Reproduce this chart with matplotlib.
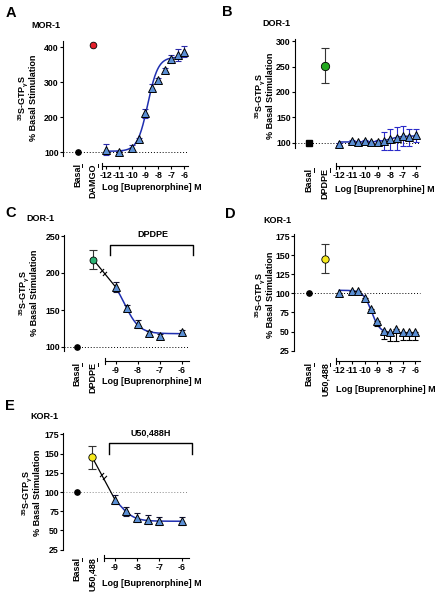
import numpy as np
import matplotlib
matplotlib.use('Agg')
import matplotlib.pyplot as plt
from matplotlib.lines import Line2D
from matplotlib.path import Path

plt.rcParams['font.family'] = ['Liberation Sans', 'DejaVu Sans']
plt.rcParams['font.weight'] = 'bold'
plt.rcParams['mathtext.default'] = 'regular'

# ------------------------------------------------------------------ data
# Panel A  MOR-1
a_logx = [-12, -11, -10, -9.5, -9, -8.5, -8, -7.5, -7, -6.5, -6]
a_mean = [108, 100, 112, 137, 211, 285, 307, 335, 366, 378, 388]
a_sem = [17, 4, 8, 4, 12, 10, 6, 6, 12, 16, 16]
a_basal = 100
a_agonist, a_agonist_sem = 408, 0
a_fit = (103, 372, -8.8, 1.1)          # low plateau, high plateau, logEC50, Hill

# Panel B  DOR-1
b_logx = [-12, -11, -10.5, -10, -9.5, -9, -8.5, -8, -7.5, -7, -6.5, -6]
b_mean = [98, 103, 101, 103, 101, 101, 103, 106, 108, 113, 110, 114]
b_sem = [2, 2, 2, 2, 2, 3, 18, 20, 22, 20, 17, 13]
b_basal = 100
b_agonist, b_agonist_sem = 252, 35
b_fit = (101, 113, -8.0, 1.0)

# Panel C  DOR-1 + DPDPE
c_logx = [-9, -8.5, -8, -7.5, -7, -6]
c_mean = [181, 153, 131, 119, 115, 120]
c_sem = [7, 4, 5, 3, 3, 3]
c_basal = 100
c_agonist, c_agonist_sem = 218, 13
c_fit = (198.7, 118, -8.6, 1.3)

# Panel D  KOR-1
d_logx = [-12, -11, -10.5, -10, -9.5, -9, -8.5, -8, -7.5, -7, -6.5, -6]
d_mean = [100, 103, 103, 93.5, 79.5, 64, 51, 49.5, 53, 50, 50, 50]
d_sem = [2, 2, 2, 3, 3, 7, 11, 12, 15, 11, 11, 11]
d_basal = 100
d_agonist, d_agonist_sem = 145, 19
d_fit = (104, 48, -9.45, 1.3)

# Panel E  KOR-1 + U50,488H
e_logx = [-9, -8.5, -8, -7.5, -7, -6]
e_mean = [90, 75, 66.5, 64, 62, 62.3]
e_sem = [6, 6, 6, 6, 5.5, 5.7]
e_basal = 100
e_agonist, e_agonist_sem = 145, 15
e_fit = (105, 62, -8.8, 1.3)

# ------------------------------------------------------------------ style
W, H, DPI = 441, 600, 100
TRI_FACE = '#5b8fd4'
CURVE = '#1f2fb0'
FS = 6.5
TFS = 6.3

fig = plt.figure(figsize=(W / DPI, H / DPI), dpi=DPI)


def fx(px):
    return px / W


def fy(py):
    return 1 - py / H


def hill(x, p):
    lo, hi, ec, h = p
    return lo + (hi - lo) / (1 + 10 ** ((ec - x) * h))


def panel(L, logx, mean, sem, basal, agonist, agonist_sem, fit, fit_range,
          ag_color, ag_ms, basal_marker, ag_label, err_color, lower_only=False,
          connect=False, bracket=None, dot_color='black'):
    (xv, xpx), ppu = L['xref'], L['ppu']
    (yv1, py1), (yv2, py2) = L['yref']
    ppy = (py1 - py2) / (yv2 - yv1)
    ybot = yv1 - (L['xaxis_py'] - py1) / ppy
    ytop = yv1 + (py1 - L['top']) / ppy
    xleft = xv - (xpx - L['yax']) / ppu
    xright = xv + (L['right'] - xpx) / ppu
    ax = fig.add_axes([fx(L['yax']), fy(L['xaxis_py']),
                       (L['right'] - L['yax']) / W, (L['xaxis_py'] - L['top']) / H])
    ax.set_xlim(xleft, xright)
    ax.set_ylim(ybot, ytop)
    ax.patch.set_alpha(0)
    for s in ('top', 'right'):
        ax.spines[s].set_visible(False)
    ax.spines['left'].set_bounds(*L['ybounds'])
    ax.spines['bottom'].set_bounds(*L['xbounds'])
    for s in ('left', 'bottom'):
        ax.spines[s].set_linewidth(0.8)
    ax.set_yticks(L['yticks'])
    ax.set_xticks(L['xticks'])
    ax.set_xticklabels([str(t) for t in L['xticks']])
    ax.tick_params(axis='both', length=2.3, width=0.8, labelsize=TFS, pad=0.8)
    ax.tick_params(axis='x', pad=1.5)
    for t in ax.get_xticklabels() + ax.get_yticklabels():
        t.set_fontweight('bold')

    def px2x(px):
        return xv + (px - xpx) / ppu

    xb, xa = px2x(L['basal_px']), px2x(L['ag_px'])
    # dotted baseline
    ax.plot([xleft, px2x(L['dot_end'])], [100, 100], color=dot_color,
            lw=0.7, ls=(0, (1, 2)), clip_on=False, zorder=1)
    # axis start cap
    ax.plot([L['xbounds'][0]] * 2, [ybot - 3 / ppy, ybot + 3 / ppy], color='black',
            lw=0.8, clip_on=False)
    # connecting line to first concentration
    if connect:
        ax.plot([xa, logx[0]], [agonist, mean[0]], color='black', lw=0.9, zorder=2)
        t = 0.45
        bx = xa + t * (logx[0] - xa)
        by = agonist + t * (mean[0] - agonist)
        brk = Path([(-0.6, -0.1), (0.1, 0.6), (-0.1, -0.6), (0.6, 0.1)],
                   [Path.MOVETO, Path.LINETO, Path.MOVETO, Path.LINETO])
        ax.plot([bx], [by], marker=brk, ms=5, mec='black', mew=0.8, ls='none', zorder=3)
    # fit curve
    xs = np.linspace(fit_range[0], fit_range[1], 200)
    ax.plot(xs, hill(xs, fit), color=CURVE, lw=1.1, zorder=3)
    # error bars
    if lower_only:
        yerr = [sem, [0] * len(sem)]
    else:
        yerr = sem
    ax.errorbar(logx, mean, yerr=yerr, fmt='none', ecolor=err_color, elinewidth=0.8,
                capsize=2.3, capthick=0.8, zorder=4)
    ax.plot(logx, mean, ls='none', marker='^', ms=5.8, mfc=TRI_FACE, mec='black',
            mew=0.7, zorder=5)
    # basal and agonist
    if basal_marker == 's':
        ax.plot([xb], [basal], marker='s', ms=4.4, color='black', ls='none', zorder=5,
                clip_on=False)
    else:
        ax.plot([xb], [basal], marker='o', ms=3.8, color='black', ls='none', zorder=5,
                clip_on=False)
    if agonist_sem:
        ax.errorbar([xa], [agonist], yerr=[agonist_sem], fmt='none', ecolor='#333333',
                    elinewidth=0.8, capsize=2.6, capthick=0.8, zorder=4)
    ax.plot([xa], [agonist], marker='o', ms=ag_ms, mfc=ag_color, mec='black', mew=0.6,
            ls='none', zorder=6, clip_on=False)
    # bracket
    if bracket is not None:
        (x1px, x2px, yhi_py, ylo_py, txt, tpx, tpy) = bracket
        yhi = yv1 + (py1 - yhi_py) / ppy
        ylo = yv1 + (py1 - ylo_py) / ppy
        ax.plot([px2x(x1px), px2x(x1px), px2x(x2px), px2x(x2px)], [ylo, yhi, yhi, ylo],
                color='black', lw=1.0, clip_on=False)
        fig.text(fx(tpx), fy(tpy), txt, ha='center', va='center', fontsize=FS,
                 fontweight='bold')
    # texts
    fig.text(fx(L['letter'][0]), fy(L['letter'][1]), L['letter'][2], ha='center',
             va='center', fontsize=10.5, fontweight='bold')
    fig.text(fx(L['title'][0]), fy(L['title'][1]), L['title'][2], ha='left',
             va='center', fontsize=FS, fontweight='bold')
    fig.text(fx(L['ylab_x'][0]), fy(L['ylab_y']), r'$^{35}$S-GTP$_{\gamma}$S',
             rotation=90, ha='center', va='center', fontsize=FS, fontweight='bold')
    fig.text(fx(L['ylab_x'][1]), fy(L['ylab_y']), '% Basal Stimulation',
             rotation=90, ha='center', va='center', fontsize=FS, fontweight='bold')
    fig.text(fx(L['xlab'][0]), fy(L['xlab'][1]), 'Log [Buprenorphine] M',
             ha='center', va='center', fontsize=FS, fontweight='bold')
    for cx, lab in ((L['basal_px'], 'Basal'), (L['ag_px'], ag_label)):
        fig.text(fx(cx), fy(L['cat_top']), lab, rotation=90, ha='center', va='top',
                 fontsize=FS, fontweight='bold')
        fig.add_artist(Line2D([fx(cx + 4.5)] * 2, [fy(L['cat_top'] + 0.5), fy(L['cat_top'] + 4)],
                              color='black', lw=0.7))
    return ax


LA = dict(yax=63, xref=(-12, 106), ppu=13.05, yref=((100, 152.3), (400, 47.3)),
          xaxis_py=165.7, top=36, right=205, ybounds=(90, 419), xbounds=(-12.33, -5.75),
          xticks=[-12, -11, -10, -9, -8, -7, -6], yticks=[100, 200, 300, 400],
          basal_px=77.7, ag_px=93.3, dot_end=188, ylab_x=(23, 33.3), ylab_y=98,
          letter=(10.5, 13, 'A'), title=(31.7, 25, 'MOR-1'), xlab=(152, 187.7), cat_top=163)
LB = dict(yax=295, xref=(-12, 339.3), ppu=12.75, yref=((100, 142.5), (300, 41.3)),
          xaxis_py=165.5, top=36, right=435, ybounds=(90, 305), xbounds=(-12.28, -5.66),
          xticks=[-12, -11, -10, -9, -8, -7, -6], yticks=[100, 150, 200, 250, 300],
          basal_px=309.3, ag_px=325, dot_end=420, ylab_x=(259.8, 270.5), ylab_y=95.7,
          letter=(227, 12, 'B'), title=(262.7, 23.3, 'DOR-1'), xlab=(384.5, 190), cat_top=168)
LC = dict(yax=64.3, xref=(-9, 115.7), ppu=22.1, yref=((100, 347), (250, 236)),
          xaxis_py=360.5, top=228, right=205, ybounds=(95, 252), xbounds=(-9.48, -5.68),
          xticks=[-9, -8, -7, -6], yticks=[100, 150, 200, 250],
          basal_px=77.3, ag_px=93.3, dot_end=189, ylab_x=(24, 34.3), ylab_y=293.3,
          letter=(11, 213, 'C'), title=(26.7, 218.3, 'DOR-1'), xlab=(151.4, 381), cat_top=362)
LD = dict(yax=294, xref=(-12, 339.3), ppu=12.65, yref=((25, 350.7), (175, 236)),
          xaxis_py=361, top=228, right=435, ybounds=(25, 178), xbounds=(-12.28, -5.66),
          xticks=[-12, -11, -10, -9, -8, -7, -6], yticks=[25, 50, 75, 100, 125, 150, 175],
          basal_px=309.3, ag_px=325, dot_end=420, ylab_x=(259.8, 270.5), ylab_y=295,
          letter=(230, 214, 'D'), title=(263.3, 220.7, 'KOR-1'), xlab=(386.3, 389), cat_top=362)
LE = dict(yax=63.3, xref=(-9, 115), ppu=22.2, yref=((25, 549.7), (175, 434.3)),
          xaxis_py=557.7, top=425, right=205, ybounds=(25, 177), xbounds=(-9.48, -5.65),
          xticks=[-9, -8, -7, -6], yticks=[25, 50, 75, 100, 125, 150, 175],
          basal_px=77.3, ag_px=92.3, dot_end=188, ylab_x=(26.8, 37.5), ylab_y=493.3,
          letter=(10, 406, 'E'), title=(30, 416.7, 'KOR-1'), xlab=(151.7, 583.3), cat_top=557)

panel(LA, a_logx, a_mean, a_sem, a_basal, a_agonist, a_agonist_sem, a_fit, (-12, -6),
      '#e3202b', 4.8, 'o', 'DAMGO', '#2a2aa8')
panel(LB, b_logx, b_mean, b_sem, b_basal, b_agonist, b_agonist_sem, b_fit, (-12, -6),
      '#22a81e', 6.0, 's', 'DPDPE', '#2a2ac8')
panel(LC, c_logx, c_mean, c_sem, c_basal, c_agonist, c_agonist_sem, c_fit, (-9, -6),
      '#2db375', 5.0, 'o', 'DPDPE', '#111133', connect=True,
      bracket=(110, 193.3, 244.7, 255, 'DPDPE', 153, 235))
panel(LD, d_logx, d_mean, d_sem, d_basal, d_agonist, d_agonist_sem, d_fit, (-12, -6),
      '#f7ea1c', 5.3, 'o', 'U50,488', 'black', lower_only=True)
panel(LE, e_logx, e_mean, e_sem, e_basal, e_agonist, e_agonist_sem, e_fit, (-9, -6),
      '#f7ea1c', 5.3, 'o', 'U50,488', '#111133', connect=True,
      bracket=(109, 192.3, 443.3, 454, 'U50,488H', 150.7, 433.3), dot_color='#888888')

fig.savefig('out.png', dpi=DPI)
